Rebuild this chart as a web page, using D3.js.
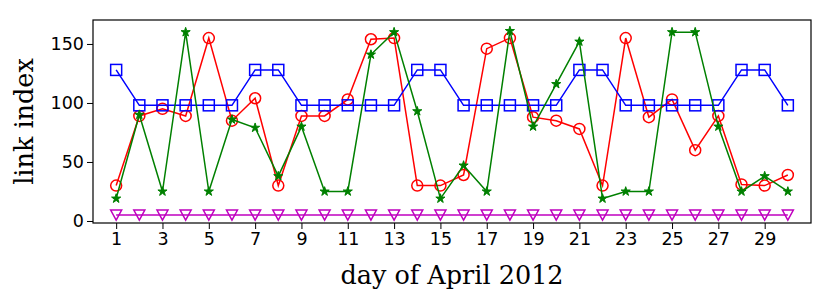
<!DOCTYPE html>
<html><head><meta charset="utf-8">
<script src="https://cdn.jsdelivr.net/npm/d3@7"></script>
<style>body{margin:0;background:#fff}svg{display:block}</style>
</head><body>
<script>
const days = d3.range(1, 31);
const red = [30,89,95,89,155,85,104,30,89,89,103,154,155,30,30,39,146,155,88,85,78,30,155,88,103,60,89,31,30,39];
const blue = [128,98,98,98,98,98,128,128,98,98,98,98,98,128,128,98,98,98,98,98,128,128,98,98,98,98,98,128,128,98];
const green = [19,90,25,160,25,86,79,38,80,25,25,141,160,93,19,47,25,161,80,116,152,19,25,25,160,160,80,25,38,25];
const magenta = [5,5,5,5,5,5,5,5,5,5,5,5,5,5,5,5,5,5,5,5,5,5,5,5,5,5,5,5,5,5];
const xTicks = [1,3,5,7,9,11,13,15,17,19,21,23,25,27,29];
const yTicks = [0,50,100,150];

const W = 831, H = 300;
const L = 93, R = 811, T = 20, B = 223;
const svg = d3.select("body").append("svg").attr("width", W).attr("height", H);
const x = d3.scaleLinear().domain([0, 31]).range([L, R]);
const y = d3.scaleLinear().domain([-1.7, 170.3]).range([B, T]);

const gx = svg.append("g").attr("transform", `translate(0,${B})`)
  .call(d3.axisBottom(x).tickValues(xTicks).tickFormat(d3.format("d")).tickSize(6).tickPadding(4));
const gy = svg.append("g").attr("transform", `translate(${L},0)`)
  .call(d3.axisLeft(y).tickValues(yTicks).tickSize(6).tickPadding(3));
[gx, gy].forEach(g => {
  g.select(".domain").remove();
  g.selectAll("text").attr("font-family", "DejaVu Sans").attr("font-size", 17.5).attr("fill", "#000");
  g.selectAll("line").attr("stroke", "#000").attr("stroke-width", 1);
});

const plot = svg.append("g");
const line = vals => d3.line().x((d, i) => x(days[i])).y(d => y(d))(vals);

function series(vals, color, marker) {
  plot.append("path").attr("d", line(vals)).attr("fill", "none").attr("stroke", color).attr("stroke-width", 1.5);
  const g = plot.append("g");
  vals.forEach((v, i) => {
    const cx = x(days[i]), cy = y(v);
    if (marker === "circle") {
      g.append("circle").attr("cx", cx).attr("cy", cy).attr("r", 5.5).attr("fill", "none").attr("stroke", color).attr("stroke-width", 1.5);
    } else if (marker === "square") {
      g.append("rect").attr("x", cx - 5.5).attr("y", cy - 5.5).attr("width", 11).attr("height", 11).attr("fill", "none").attr("stroke", color).attr("stroke-width", 1.5);
    } else if (marker === "tri") {
      g.append("path").attr("d", `M${cx-5.5},${cy-5}L${cx+5.5},${cy-5}L${cx},${cy+5}Z`).attr("fill", "none").attr("stroke", color).attr("stroke-width", 1.5);
    } else if (marker === "star") {
      g.append("path").attr("d", d3.symbol(d3.symbolStar, 26)()).attr("transform", `translate(${cx},${cy})`).attr("fill", color).attr("stroke", color).attr("stroke-width", 1);
    }
  });
}
series(red, "#ff0000", "circle");
series(blue, "#0000ff", "square");
series(green, "#008000", "star");
series(magenta, "#bf00bf", "tri");

svg.append("rect").attr("x", L).attr("y", T).attr("width", R - L).attr("height", B - T)
  .attr("fill", "none").attr("stroke", "#000").attr("stroke-width", 1.2);

svg.append("text").attr("x", (L + R) / 2).attr("y", 284).attr("text-anchor", "middle")
  .attr("font-family", "DejaVu Serif").attr("font-size", 25.5).text("day of April 2012");
svg.append("text").attr("transform", `translate(33,${(T + B) / 2}) rotate(-90)`).attr("text-anchor", "middle")
  .attr("font-family", "DejaVu Serif").attr("font-size", 25.5).text("link index");
</script>
</body></html>
